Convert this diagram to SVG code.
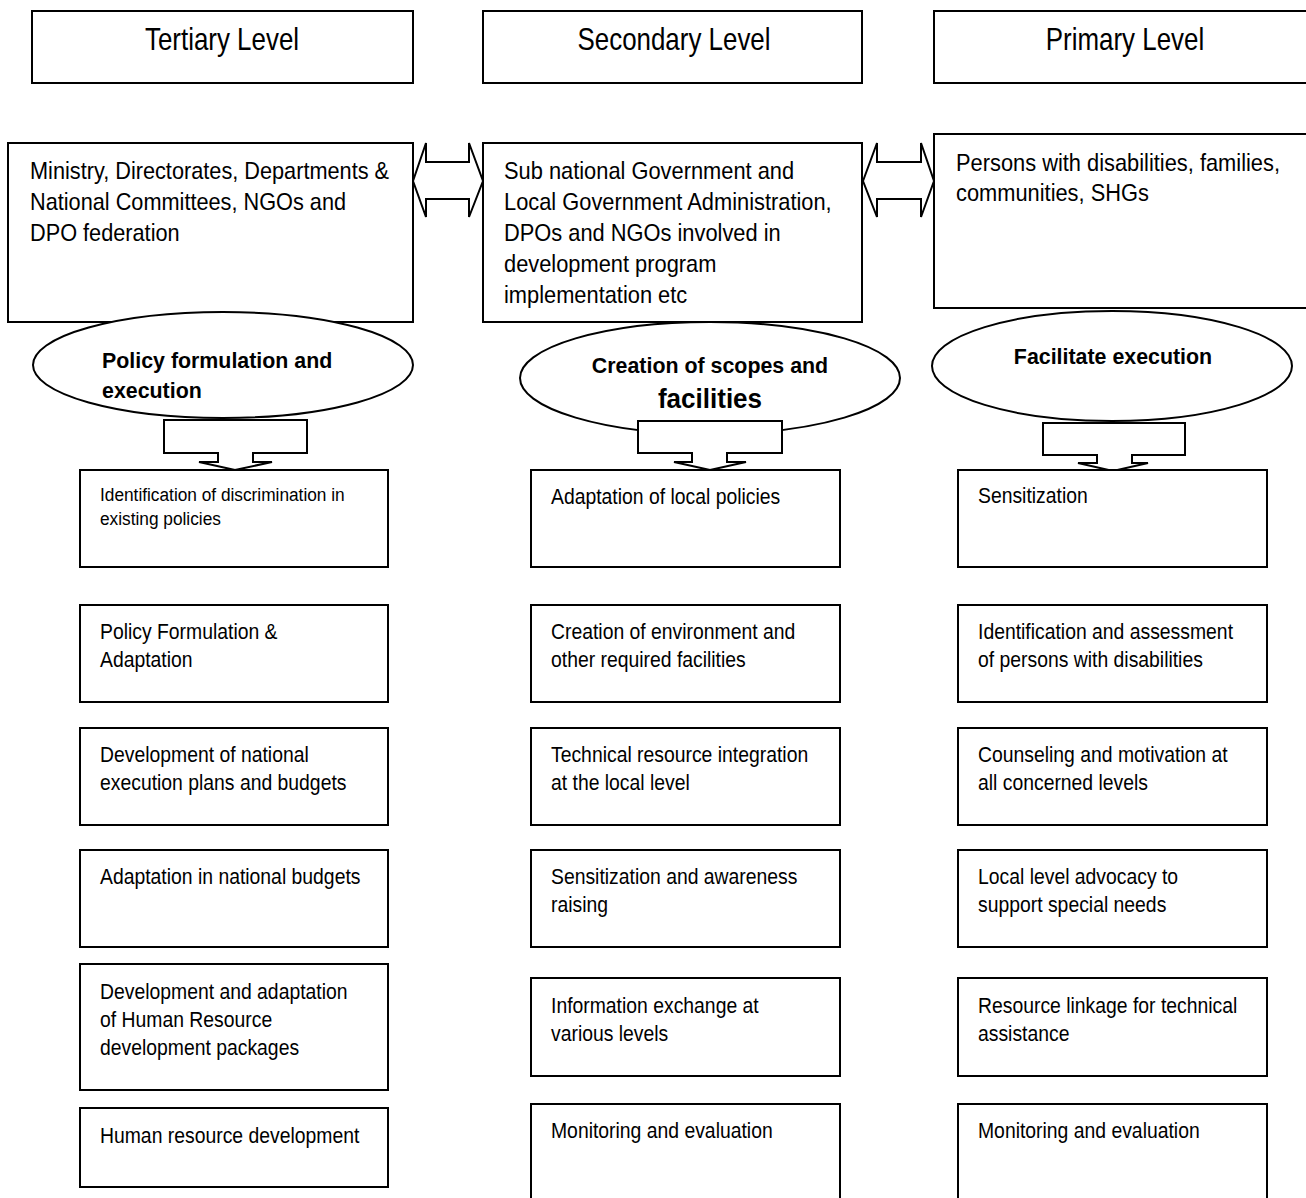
<svg xmlns="http://www.w3.org/2000/svg" width="1306" height="1198" viewBox="0 0 1306 1198">
  <style>
    .box { fill: #ffffff; stroke: #000000; stroke-width: 2; }
    .shape { fill: #ffffff; stroke: #000000; stroke-width: 2; stroke-linejoin: miter; }
    text { font-family: "Liberation Sans", Arial, sans-serif; fill: #000000; }
    .hd { font-size: 32px; text-anchor: middle; }
    .lv { font-size: 24px; }
    .el { font-size: 23px; font-weight: bold; }
    .elbig { font-size: 28px; font-weight: bold; }
    .tx { font-size: 22px; }
    .sm { font-size: 18px; }
  </style>
  <rect width="1306" height="1198" fill="#ffffff"/>

  <!-- level headings -->
  <g id="head-tertiary">
    <rect class="box" x="32" y="11" width="381" height="72"/>
    <text class="hd" transform="translate(222,50) scale(0.81,1)">Tertiary Level</text>
  </g>
  <g id="head-secondary">
    <rect class="box" x="483" y="11" width="379" height="72"/>
    <text class="hd" transform="translate(674,50) scale(0.81,1)">Secondary Level</text>
  </g>
  <g id="head-primary">
    <rect class="box" x="934" y="11" width="380" height="72"/>
    <text class="hd" transform="translate(1125,50) scale(0.81,1)">Primary Level</text>
  </g>

  <!-- actors at each level -->
  <g id="actors-tertiary">
    <rect class="box" x="8" y="143" width="405" height="179"/>
    <text class="lv" transform="translate(30,179) scale(0.905,1)"><tspan x="0">Ministry, Directorates, Departments &amp;</tspan><tspan x="0" dy="31">National Committees, NGOs and</tspan><tspan x="0" dy="31">DPO federation</tspan></text>
  </g>
  <g id="actors-secondary">
    <rect class="box" x="483" y="143" width="379" height="179"/>
    <text class="lv" transform="translate(504,179) scale(0.91,1)"><tspan x="0">Sub national Government and</tspan><tspan x="0" dy="31">Local Government Administration,</tspan><tspan x="0" dy="31">DPOs and NGOs involved in</tspan><tspan x="0" dy="31">development program</tspan><tspan x="0" dy="31">implementation etc</tspan></text>
  </g>
  <g id="actors-primary">
    <rect class="box" x="934" y="134" width="380" height="174"/>
    <text class="lv" transform="translate(956,171) scale(0.91,1)"><tspan x="0">Persons with disabilities, families,</tspan><tspan x="0" dy="30">communities, SHGs</tspan></text>
  </g>

  <!-- connectors: two-way links between levels, arrows down to tasks -->
  <g id="connectors">
    <polygon class="shape" points="413,181 426,143 426,162 469,162 469,143 483,181 469,217 469,199 426,199 426,217"/>
    <polygon class="shape" points="863,181 877,143 877,162 921,162 921,143 934,181 921,217 921,199 877,199 877,217"/>
  </g>

  <!-- roles -->
  <g id="role-tertiary">
    <ellipse class="box" cx="223" cy="365" rx="190" ry="53"/>
    <text class="el" transform="translate(102,368) scale(0.93,1)"><tspan x="0">Policy formulation and</tspan><tspan x="0" dy="30">execution</tspan></text>
  </g>
  <g id="role-secondary">
    <ellipse class="box" cx="710" cy="378" rx="190" ry="56"/>
    <text class="el" text-anchor="middle" transform="translate(710,373) scale(0.93,1)">Creation of scopes and</text>
    <text class="elbig" text-anchor="middle" transform="translate(710,408) scale(0.93,1)">facilities</text>
  </g>
  <g id="role-primary">
    <ellipse class="box" cx="1112" cy="366" rx="180" ry="55"/>
    <text class="el" text-anchor="middle" transform="translate(1113,364) scale(0.93,1)">Facilitate execution</text>
  </g>

  <g id="connectors-down">
    <polygon class="shape" points="164,420 307,420 307,453 253,453 253,462 272,462 235,470 199,462 218,462 218,453 164,453"/>
    <polygon class="shape" points="638,421 782,421 782,453 727,453 727,462 746,462 710,470 674,462 692,462 692,453 638,453"/>
    <polygon class="shape" points="1043,423 1185,423 1185,455 1132,455 1132,463 1148,463 1113,471 1078,463 1097,463 1097,455 1043,455"/>
  </g>

  <!-- tertiary tasks -->
  <g id="t1">
    <rect class="box" x="80" y="470" width="308" height="97"/>
    <text class="sm" transform="translate(100,501) scale(0.96,1)"><tspan x="0">Identification of discrimination in</tspan><tspan x="0" dy="24">existing policies</tspan></text>
  </g>
  <g id="t2">
    <rect class="box" x="80" y="605" width="308" height="97"/>
    <text class="tx" transform="translate(100,639) scale(0.88,1)"><tspan x="0">Policy Formulation &amp;</tspan><tspan x="0" dy="28">Adaptation</tspan></text>
  </g>
  <g id="t3">
    <rect class="box" x="80" y="728" width="308" height="97"/>
    <text class="tx" transform="translate(100,762) scale(0.88,1)"><tspan x="0">Development of national</tspan><tspan x="0" dy="28">execution plans and budgets</tspan></text>
  </g>
  <g id="t4">
    <rect class="box" x="80" y="850" width="308" height="97"/>
    <text class="tx" transform="translate(100,884) scale(0.88,1)">Adaptation in national budgets</text>
  </g>
  <g id="t5">
    <rect class="box" x="80" y="964" width="308" height="126"/>
    <text class="tx" transform="translate(100,999) scale(0.88,1)"><tspan x="0">Development and adaptation</tspan><tspan x="0" dy="28">of Human Resource</tspan><tspan x="0" dy="28">development packages</tspan></text>
  </g>
  <g id="t6">
    <rect class="box" x="80" y="1108" width="308" height="79"/>
    <text class="tx" transform="translate(100,1143) scale(0.88,1)">Human resource development</text>
  </g>

  <!-- secondary tasks -->
  <g id="s1">
    <rect class="box" x="531" y="470" width="309" height="97"/>
    <text class="tx" transform="translate(551,504) scale(0.88,1)">Adaptation of local policies</text>
  </g>
  <g id="s2">
    <rect class="box" x="531" y="605" width="309" height="97"/>
    <text class="tx" transform="translate(551,639) scale(0.88,1)"><tspan x="0">Creation of environment and</tspan><tspan x="0" dy="28">other required facilities</tspan></text>
  </g>
  <g id="s3">
    <rect class="box" x="531" y="728" width="309" height="97"/>
    <text class="tx" transform="translate(551,762) scale(0.88,1)"><tspan x="0">Technical resource integration</tspan><tspan x="0" dy="28">at the local level</tspan></text>
  </g>
  <g id="s4">
    <rect class="box" x="531" y="850" width="309" height="97"/>
    <text class="tx" transform="translate(551,884) scale(0.88,1)"><tspan x="0">Sensitization and awareness</tspan><tspan x="0" dy="28">raising</tspan></text>
  </g>
  <g id="s5">
    <rect class="box" x="531" y="978" width="309" height="98"/>
    <text class="tx" transform="translate(551,1013) scale(0.88,1)"><tspan x="0">Information exchange at</tspan><tspan x="0" dy="28">various levels</tspan></text>
  </g>
  <g id="s6">
    <rect class="box" x="531" y="1104" width="309" height="110"/>
    <text class="tx" transform="translate(551,1138) scale(0.88,1)">Monitoring and evaluation</text>
  </g>

  <!-- primary tasks -->
  <g id="p1">
    <rect class="box" x="958" y="470" width="309" height="97"/>
    <text class="tx" transform="translate(978,503) scale(0.88,1)">Sensitization</text>
  </g>
  <g id="p2">
    <rect class="box" x="958" y="605" width="309" height="97"/>
    <text class="tx" transform="translate(978,639) scale(0.88,1)"><tspan x="0">Identification and assessment</tspan><tspan x="0" dy="28">of persons with disabilities</tspan></text>
  </g>
  <g id="p3">
    <rect class="box" x="958" y="728" width="309" height="97"/>
    <text class="tx" transform="translate(978,762) scale(0.88,1)"><tspan x="0">Counseling and motivation at</tspan><tspan x="0" dy="28">all concerned levels</tspan></text>
  </g>
  <g id="p4">
    <rect class="box" x="958" y="850" width="309" height="97"/>
    <text class="tx" transform="translate(978,884) scale(0.88,1)"><tspan x="0">Local level advocacy to</tspan><tspan x="0" dy="28">support special needs</tspan></text>
  </g>
  <g id="p5">
    <rect class="box" x="958" y="978" width="309" height="98"/>
    <text class="tx" transform="translate(978,1013) scale(0.88,1)"><tspan x="0">Resource linkage for technical</tspan><tspan x="0" dy="28">assistance</tspan></text>
  </g>
  <g id="p6">
    <rect class="box" x="958" y="1104" width="309" height="110"/>
    <text class="tx" transform="translate(978,1138) scale(0.88,1)">Monitoring and evaluation</text>
  </g>
</svg>
